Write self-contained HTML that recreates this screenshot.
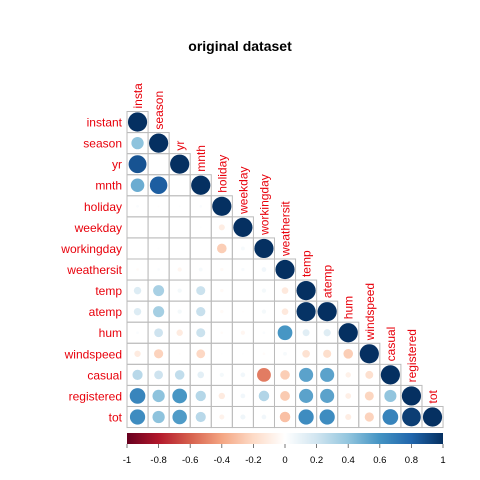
<!DOCTYPE html>
<html><head><meta charset="utf-8"><style>
body{margin:0;background:#fff;}
svg{display:block;font-family:"Liberation Sans",Arial,sans-serif;}
</style></head><body>
<svg id="chart" width="480" height="480">
<text x="240" y="51" text-anchor="middle" font-size="14" font-weight="bold">original dataset</text>
<defs><linearGradient id="cg" x1="0" x2="1" y1="0" y2="0">
<stop offset="0" stop-color="#67001F"/><stop offset="0.1" stop-color="#B2182B"/><stop offset="0.2" stop-color="#D6604D"/><stop offset="0.3" stop-color="#F4A582"/><stop offset="0.4" stop-color="#FDDBC7"/><stop offset="0.5" stop-color="#FFFFFF"/><stop offset="0.6" stop-color="#D1E5F0"/><stop offset="0.7" stop-color="#92C5DE"/><stop offset="0.8" stop-color="#4393C3"/><stop offset="0.9" stop-color="#2166AC"/><stop offset="1" stop-color="#053061"/>
</linearGradient></defs>
<g id="grid"></g>
<g id="legend"><rect x="127" y="433" width="316" height="11" fill="url(#cg)"/></g>
</svg>
<script>
const vars=["instant","season","yr","mnth","holiday","weekday","workingday","weathersit","temp","atemp","hum","windspeed","casual","registered","tot"];
const colLabels=["insta","season","yr","mnth","holiday","weekday","workingday","weathersit","temp","atemp","hum","windspeed","casual","registered","tot"];
const corrRows=[
[1],
[0.41,1],
[0.87,0,1],
[0.50,0.83,0,1],
[0.02,-0.01,0.01,0.02,1],
[0,0,0,0.01,-0.10,1],
[0,0.01,0,0,-0.25,0.04,1],
[-0.02,0.02,-0.05,0.04,-0.03,0.03,0.06,1],
[0.15,0.33,0.05,0.22,-0.03,0,0.05,-0.12,1],
[0.15,0.34,0.05,0.23,-0.03,-0.01,0.05,-0.12,0.99,1],
[0.02,0.21,-0.11,0.22,-0.02,-0.05,0.02,0.59,0.13,0.14,1],
[-0.11,-0.23,-0.01,-0.21,0.01,0.01,-0.02,0.04,-0.16,-0.18,-0.25,1],
[0.28,0.21,0.25,0.12,0.05,0.06,-0.52,-0.25,0.54,0.54,-0.08,-0.17,1],
[0.66,0.41,0.59,0.29,-0.11,0.06,0.30,-0.26,0.54,0.54,-0.09,-0.22,0.40,1],
[0.63,0.41,0.57,0.28,-0.07,0.07,0.06,-0.30,0.63,0.63,-0.10,-0.23,0.67,0.95,1]
];
const legendTicks=[-1,-0.8,-0.6,-0.4,-0.2,0,0.2,0.4,0.6,0.8,1];
const stops=["#67001F","#B2182B","#D6604D","#F4A582","#FDDBC7","#FFFFFF","#D1E5F0","#92C5DE","#4393C3","#2166AC","#053061"];
const NS="http://www.w3.org/2000/svg";
const X0=127,Y0=111.5,C=21.07;
function cx(j){return X0+(j+0.5)*C;}
function cy(i){return Y0+(i+0.5)*C;}
function lx(v){return X0+(v+1)/2*316;}
function hex(h){return [1,3,5].map(k=>parseInt(h.substr(k,2),16));}
function color(v){const t=(v+1)*5;let k=Math.min(9,Math.floor(t));const f=t-k;const a=hex(stops[k]),b=hex(stops[k+1]);
return "rgb("+a.map((x,i)=>Math.round(x+(b[i]-x)*f)).join(",")+")";}
const g=document.getElementById("grid");
function mk(tag,attrs){const e=document.createElementNS(NS,tag);for(const k in attrs)e.setAttribute(k,attrs[k]);return e;}
corrRows.forEach((row,i)=>{
  row.forEach((v,j)=>{
    const r=mk("rect",{x:X0+j*C,y:Y0+i*C,width:C,height:C,fill:"none",stroke:"#bbbbbb","stroke-width":1});
    
    
    g.appendChild(r);
    const c=mk("circle",{cx:cx(j),cy:cy(i),r:9.6*Math.sqrt(Math.abs(v)),fill:color(v)});
    
    
    g.appendChild(c);
  });
  const t=mk("text",{x:X0-5,y:cy(i)+4.5,"text-anchor":"end","font-size":12,fill:"#e8000b"});
  t.textContent=vars[i];
  
  
  g.appendChild(t);
  const x=cx(i)+4.5,y=Y0+i*C-3;
  const ct=mk("text",{x:x,y:y,transform:"rotate(-90 "+x+" "+y+")","font-size":12,fill:"#e8000b"});
  ct.textContent=colLabels[i];
  
  
  g.appendChild(ct);
});
const L=document.getElementById("legend");
legendTicks.forEach(v=>{
  const tk=mk("line",{x1:lx(v),x2:lx(v),y1:444,y2:448,stroke:"#555","stroke-width":0.8});
  
  
  L.appendChild(tk);
  const tx=mk("text",{x:lx(v),y:463,"text-anchor":"middle","font-size":9.5,fill:"#000"});
  tx.textContent=String(v);
  
  
  L.appendChild(tx);
});
</script>
</body></html>
